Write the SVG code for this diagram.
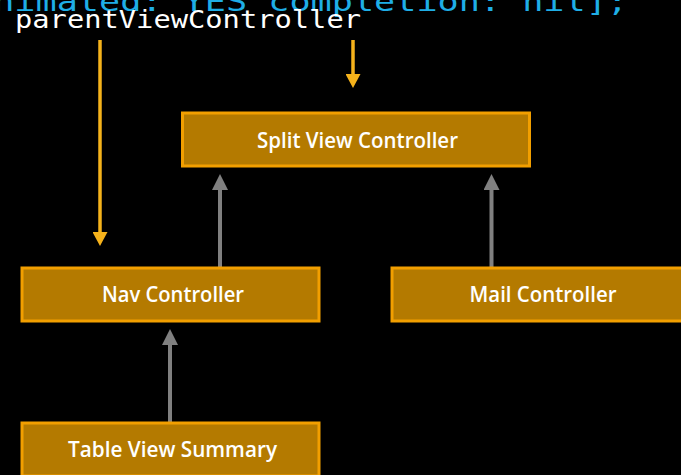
<svg xmlns="http://www.w3.org/2000/svg" width="681" height="475" viewBox="0 0 681 475">
  <defs>
    <style>
      .bg { fill: #000000; }
      .code { font-family: "DejaVu Sans Mono", "Liberation Mono", monospace; }
      .code-blue { fill: #1faee6; font-size: 27px; }
      .code-white { fill: #ffffff; font-size: 24px; }
      .box rect { fill: #b47a00; stroke: #f29f00; stroke-width: 3; }
      .box text { fill: #ffffff; font-family: "Open Sans", "Liberation Sans", sans-serif; font-weight: 600; font-size: 21.5px; text-anchor: middle; }
      .link-gray { stroke: #808080; stroke-width: 4; fill: none; }
      .link-yellow { stroke: #f5b21b; stroke-width: 3.5; fill: none; }
    </style>
    <marker id="head-gray" markerUnits="userSpaceOnUse" viewBox="0 0 16 16" markerWidth="16" markerHeight="16" refX="4" refY="8" orient="auto">
      <path d="M0,0 L16,8 L0,16 Z" fill="#808080"/>
    </marker>
    <marker id="head-yellow" markerUnits="userSpaceOnUse" viewBox="0 0 14 15" markerWidth="14" markerHeight="15" refX="4" refY="7.5" orient="auto">
      <path d="M0,0 L14,7.5 L0,15 Z" fill="#f5b21b"/>
    </marker>
  </defs>

  <rect class="bg" x="0" y="0" width="681" height="475"/>

  <!-- code fragment along the top edge -->
  <text class="code code-blue" x="-28" y="11" textLength="656" lengthAdjust="spacingAndGlyphs">animated: YES completion: nil];</text>
  <text class="code code-white" x="15" y="28" textLength="346" lengthAdjust="spacingAndGlyphs">parentViewController</text>

  <!-- connectors -->
  <g id="connectors">
    <line class="link-yellow" x1="100" y1="40" x2="100" y2="236" marker-end="url(#head-yellow)"/>
    <line class="link-yellow" x1="353" y1="40" x2="353" y2="78" marker-end="url(#head-yellow)"/>
    <line class="link-gray" x1="220" y1="267" x2="220" y2="186" marker-end="url(#head-gray)"/>
    <line class="link-gray" x1="491.5" y1="267" x2="491.5" y2="186" marker-end="url(#head-gray)"/>
    <line class="link-gray" x1="170" y1="422" x2="170" y2="341" marker-end="url(#head-gray)"/>
  </g>

  <!-- nodes -->
  <g id="split-view-controller" class="box">
    <rect x="182.5" y="113" width="347" height="53"/>
    <text x="357.5" y="147.5" textLength="201" lengthAdjust="spacingAndGlyphs">Split View Controller</text>
  </g>
  <g id="nav-controller" class="box">
    <rect x="22" y="268" width="297" height="53"/>
    <text x="173" y="302" textLength="142" lengthAdjust="spacingAndGlyphs">Nav Controller</text>
  </g>
  <g id="mail-controller" class="box">
    <rect x="392" y="268" width="300" height="53"/>
    <text x="543" y="302" textLength="147" lengthAdjust="spacingAndGlyphs">Mail Controller</text>
  </g>
  <g id="table-view-summary" class="box">
    <rect x="22" y="423" width="297" height="53"/>
    <text x="172.5" y="457" textLength="209" lengthAdjust="spacingAndGlyphs">Table View Summary</text>
  </g>
</svg>
